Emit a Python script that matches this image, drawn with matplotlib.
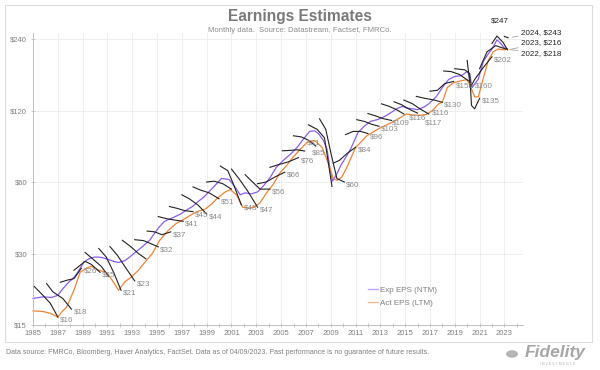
import matplotlib
matplotlib.use("Agg")
import matplotlib.pyplot as plt
from matplotlib.patches import Rectangle, Circle

plt.rcParams['font.family'] = ['Liberation Sans', 'DejaVu Sans']

# ---------------- data ----------------
exp_years = [1985.0, 1985.8, 1986.5, 1987.0, 1987.4, 1987.8, 1988.3, 1988.6, 1989.1, 1989.5,
             1990.0, 1990.5, 1991.0, 1991.5, 1991.9, 1992.4, 1992.8, 1993.3, 1993.8, 1994.4,
             1995.1, 1995.6, 1996.3, 1996.9, 1997.4, 1997.9, 1998.3, 1998.8, 1999.3, 1999.8,
             2000.2, 2000.8, 2001.2, 2001.7, 2002.1, 2002.6, 2003.1, 2003.6, 2004.1, 2004.6,
             2005.2, 2005.8, 2006.3, 2006.8, 2007.3, 2007.7, 2008.0, 2008.4, 2008.7, 2008.95,
             2009.15, 2009.5, 2009.8, 2010.2, 2010.6, 2011.2, 2011.7, 2012.2, 2012.8, 2013.3,
             2013.8, 2014.3, 2014.8, 2015.1, 2015.6, 2016.0, 2016.5, 2016.9, 2017.5, 2018.0,
             2018.5, 2019.0, 2019.5, 2020.0, 2020.2, 2020.4, 2020.6, 2020.9, 2021.3, 2021.7,
             2022.0, 2022.4, 2022.7, 2023.0, 2023.25]
exp_eps = [19.4, 19.7, 19.6, 20.0, 21.3, 22.5, 23.8, 25.0, 27.6, 28.5,
           29.0, 28.9, 28.4, 27.8, 27.5, 28.0, 29.0, 30.5, 32.0, 34.1,
           38.4, 41.0, 42.5, 44.0, 45.8, 47.5, 49.6, 52.0, 55.4, 59.0,
           62.1, 61.5, 58.0, 53.0, 54.0, 53.5, 54.5, 58.0, 62.5, 69.0,
           74.2, 79.0, 84.0, 91.0, 98.0, 98.5, 96.0, 90.0, 82.5, 68.0,
           60.5, 65.0, 70.2, 76.0, 82.5, 97.0, 103.0, 108.0, 110.0, 113.0,
           117.0, 122.0, 125.0, 123.0, 122.0, 121.0, 124.0, 128.0, 137.0, 150.0,
           162.0, 167.0, 168.0, 175.0, 170.0, 150.0, 155.0, 163.0, 193.0, 208.0,
           218.0, 238.0, 230.0, 220.0, 218.0]

act_years = [1985.0, 1985.8, 1986.4, 1987.0, 1987.3, 1987.7, 1988.3, 1988.8, 1989.3, 1989.7,
             1990.3, 1990.9, 1991.3, 1991.9, 1992.4, 1992.9, 1993.5, 1994.0, 1994.6, 1995.2,
             1995.9, 1996.5, 1997.1, 1997.7, 1998.2, 1998.9, 1999.4, 1999.9, 2000.5, 2000.9,
             2001.4, 2001.9, 2002.4, 2002.9, 2003.3, 2003.8, 2004.4, 2004.9, 2005.5, 2006.0,
             2006.6, 2007.1, 2007.7, 2008.3, 2008.8, 2009.2, 2009.5, 2009.9, 2010.3, 2011.0,
             2011.5, 2011.9, 2012.5, 2013.0, 2013.6, 2014.1, 2014.6, 2015.1, 2015.6, 2016.2,
             2016.7, 2017.2, 2017.7, 2018.0, 2018.4, 2018.9, 2019.5, 2020.0, 2020.3, 2020.6,
             2020.9, 2021.3, 2021.7, 2022.1, 2022.5, 2023.0, 2023.25]
act_eps = [17.2, 17.1, 16.8, 16.2, 17.0, 17.8, 21.0, 25.0, 26.0, 26.5,
           25.5, 25.0, 23.5, 21.0, 22.8, 23.8, 25.5, 27.5, 29.9, 34.0,
           37.5, 40.0, 41.6, 43.5, 45.0, 46.2, 48.5, 51.5, 54.5, 55.8,
           53.0, 47.0, 46.5, 47.3, 49.0, 53.8, 59.0, 65.5, 71.0, 76.7,
           83.0, 88.2, 89.7, 84.0, 72.0, 62.1, 61.0, 63.0, 69.2, 83.8,
           89.0, 93.9, 98.0, 101.4, 105.0, 108.0, 112.0, 116.0, 115.0, 114.5,
           115.5, 120.0, 128.0, 130.0, 150.0, 157.0, 160.0, 162.0, 150.0, 137.0,
           137.0, 164.0, 195.0, 212.0, 218.0, 216.0, 218.0]

# calendar-year estimate paths (time, estimate) and the final value label
fc_years = list(range(1986, 2025))
fc_t = [
    [1985.1, 1985.8, 1986.4, 1987.0],
    [1986.1, 1986.6, 1987.4, 1988.1],
    [1987.2, 1987.8, 1988.3, 1988.9],
    [1988.3, 1989.2, 1989.7, 1990.4],
    [1989.2, 1989.8, 1990.5, 1991.1],
    [1990.3, 1990.9, 1991.5, 1992.1],
    [1991.2, 1991.8, 1992.5, 1993.2],
    [1992.2, 1992.9, 1993.5, 1994.1],
    [1993.2, 1993.9, 1994.5, 1995.1],
    [1994.2, 1994.8, 1995.4, 1996.1],
    [1995.1, 1995.8, 1996.4, 1997.1],
    [1996.0, 1996.6, 1997.2, 1997.9],
    [1997.0, 1997.6, 1998.3, 1999.0],
    [1997.9, 1998.5, 1999.2, 2000.0],
    [1999.0, 1999.6, 2000.3, 2001.0],
    [2000.1, 2000.7, 2001.2, 2001.8],
    [2001.0, 2001.6, 2002.3, 2003.1],
    [2002.1, 2002.7, 2003.3, 2004.1],
    [2003.1, 2003.8, 2004.5, 2005.3],
    [2004.1, 2004.8, 2005.6, 2006.4],
    [2005.1, 2005.7, 2006.3, 2006.9],
    [2006.0, 2006.6, 2007.2, 2007.8],
    [2007.2, 2007.9, 2008.5, 2009.1],
    [2008.1, 2008.6, 2009.0, 2009.5, 2010.1],
    [2009.2, 2009.7, 2010.3, 2011.0],
    [2010.2, 2010.8, 2011.4, 2012.0],
    [2011.1, 2011.7, 2012.3, 2012.9],
    [2012.0, 2012.6, 2013.2, 2013.9],
    [2013.1, 2013.7, 2014.3, 2014.9],
    [2014.1, 2014.7, 2015.4, 2016.0],
    [2014.9, 2015.6, 2016.3, 2016.9],
    [2015.9, 2016.6, 2017.3, 2018.0],
    [2017.0, 2017.6, 2018.2, 2018.9],
    [2018.1, 2018.7, 2019.4, 2020.1],
    [2019.0, 2019.8, 2020.2, 2020.35, 2020.6, 2021.0],
    [2020.0, 2020.25, 2020.6, 2021.3, 2022.0],
    [2021.0, 2021.6, 2022.3, 2023.1],
    [2022.0, 2022.4, 2022.9, 2023.25],
    [2023.0, 2023.3],
]
fc_v = [
    [21.8, 20.0, 18.5, 16.2],
    [22.4, 20.7, 19.4, 17.5],
    [22.7, 23.2, 23.5, 26.0],
    [25.5, 27.8, 27.0, 25.0],
    [30.3, 28.5, 26.5, 24.0],
    [31.5, 29.0, 25.0, 21.0],
    [32.1, 29.5, 26.0, 23.0],
    [34.1, 32.0, 30.0, 28.5],
    [34.3, 34.0, 33.0, 32.0],
    [37.3, 37.0, 36.0, 37.0],
    [42.9, 42.0, 41.5, 41.0],
    [47.3, 46.5, 45.5, 45.0],
    [53.0, 51.0, 48.0, 44.0],
    [57.2, 55.5, 54.0, 51.0],
    [60.0, 60.5, 59.0, 56.0],
    [70.0, 67.0, 58.0, 48.0],
    [68.0, 62.0, 55.0, 47.0],
    [64.4, 60.0, 56.0, 56.0],
    [59.0, 60.0, 63.0, 66.0],
    [69.2, 71.0, 73.0, 76.0],
    [81.2, 81.5, 82.0, 81.0],
    [93.9, 93.0, 90.0, 85.0],
    [104.5, 100.0, 92.0, 57.5],
    [110.7, 100.0, 80.0, 62.0, 60.0],
    [72.0, 74.0, 79.0, 84.0],
    [95.0, 98.0, 98.0, 96.0],
    [109.8, 108.0, 105.0, 103.0],
    [116.5, 114.0, 111.0, 109.0],
    [128.0, 125.0, 121.0, 116.0],
    [130.6, 127.0, 121.0, 117.0],
    [132.8, 128.0, 121.0, 116.0],
    [137.6, 135.0, 133.0, 130.0],
    [144.7, 146.0, 156.0, 159.0],
    [176.0, 175.0, 170.0, 160.0],
    [180.0, 178.0, 172.0, 126.0, 122.0, 135.0],
    [195.0, 150.0, 162.0, 182.0, 202.0],
    [180.0, 212.0, 225.0, 218.0],
    [230.0, 247.0, 232.0, 216.0],
    [246.0, 243.0],
]
fc_labels = ['$16', '$18', '$26', '$25', '', '$21', '$23', '', '$32', '$37',
             '$41', '$45', '$44', '$51', '', '$48', '$47', '$56', '$66', '$76',
             '$81', '$85', '', '$60', '$84', '$96', '$103', '$109', '$116', '$117',
             '$116', '$130', '$159', '$160', '$135', '$202', '', '', '']

# recent estimates called out at the right
call_years = [2024, 2023, 2022]
call_texts = ['2024, $243', '2023, $216', '2022, $218']
peak_text = '$247'

x_ticks = list(range(1985, 2025))
x_labels = [str(y) if (y - 1985) % 2 == 0 else '' for y in x_ticks]
y_ticks = [15, 30, 60, 120, 240]
y_labels = ['$15', '$30', '$60', '$120', '$240']

# ---------------- figure ----------------
W, H = 600, 370
fig = plt.figure(figsize=(6, 3.7), dpi=100)
fig.patch.set_facecolor('white')
fig.patches.append(Rectangle((5 / W, 1 - 342 / H), 587 / W, 337 / H, transform=fig.transFigure,
                             fill=False, edgecolor='#dcdcdc', lw=0.8))

ax = fig.add_axes([33 / W, 45 / H, 490 / W, 292 / H])
ax.set_yscale('log', base=2)
ax.set_ylim(15, 254.4)
ax.set_xlim(1985, 2024.5)

grey = '#808080'
for s in ['top', 'right']:
    ax.spines[s].set_visible(False)
for s in ['left', 'bottom']:
    ax.spines[s].set_color('#bfbfbf')
    ax.spines[s].set_linewidth(0.7)

ax.set_yticks(y_ticks)
ax.set_yticklabels(y_labels)
ax.yaxis.set_minor_locator(matplotlib.ticker.NullLocator())
ax.set_xticks(x_ticks)
ax.set_xticklabels(x_labels)
ax.tick_params(axis='both', colors='#bfbfbf', labelcolor=grey, labelsize=5.5,
               length=2.5, width=0.6, direction='inout', pad=2)
ax.tick_params(axis='y', pad=3)

ax.set_axisbelow(True)
ax.grid(axis='y', color='#ececec', lw=0.6)
for y in range(1987, 2025, 2):
    ax.axvline(y, color='#ececec', lw=0.6, zorder=0)

purple = '#8a5cf0'
orange = '#ee8435'
ax.plot(exp_years, exp_eps, color=purple, lw=0.9, label='Exp EPS (NTM)', zorder=2, clip_on=False)
ax.plot(act_years, act_eps, color=orange, lw=0.9, label='Act EPS (LTM)', zorder=2, clip_on=False)

# pixel nudges for crowded value labels (index into fc_labels -> (dx, dy))
nudge = {20: (2, 8), 21: (-4, -7), 27: (0, -3), 28: (5, -4), 29: (7, -10),
         30: (3, 1), 32: (2, -5), 33: (6, -5)}
for k, (t, v, lab) in enumerate(zip(fc_t, fc_v, fc_labels)):
    ax.plot(t, v, color='#222222', lw=0.8, zorder=3, clip_on=False)
    if lab:
        dx, dy = nudge.get(k, (2, -3))
        ax.annotate(lab, (t[-1], v[-1]), xytext=(dx, dy), textcoords='offset pixels',
                    ha='left', va='center', fontsize=5.8, color='#8c8c8c', zorder=4)

# peak label
pk = fc_years.index(2023)
pk_i = fc_v[pk].index(max(fc_v[pk]))
ax.annotate(peak_text, (fc_t[pk][pk_i], fc_v[pk][pk_i]), xytext=(500, H - 21),
            textcoords='figure pixels', ha='center', va='center', fontsize=5.8,
            color='#222222')

# call-outs
call_pos = [(519, 33), (519, 43), (519, 54)]
for cy, txt, (px, py) in zip(call_years, call_texts, call_pos):
    i = fc_years.index(cy)
    ax.annotate(txt, (fc_t[i][-1], fc_v[i][-1]), xytext=(px + 2, H - py),
                textcoords='figure pixels', ha='left', va='center', fontsize=5.8,
                color='#222222',
                arrowprops=dict(arrowstyle='-', color='#a6a6a6', lw=0.6,
                                shrinkA=0, shrinkB=3))

leg = ax.legend(loc='upper left', bbox_to_anchor=(368 / W, 1 - 286 / H),
                bbox_transform=fig.transFigure, frameon=False, fontsize=5.8,
                handlelength=1.3, handletextpad=0.2, labelspacing=0.65,
                borderpad=0, borderaxespad=0)
for txt in leg.get_texts():
    txt.set_color('#7f7f7f')
for ln in leg.get_lines():
    ln.set_alpha(0.55)
    ln.set_linewidth(1.0)

fig.text(300 / W, 1 - 16 / H, 'Earnings Estimates', ha='center', va='center',
         fontsize=11.2, fontweight='bold', color='#7a7a7a')
fig.text(300 / W, 1 - 30 / H, 'Monthly data.  Source: Datastream, Factset, FMRCo.',
         ha='center', va='center', fontsize=5.6, color='#8c8c8c')
fig.text(6 / W, 1 - 353 / H,
         'Data source: FMRCo, Bloomberg, Haver Analytics, FactSet. Data as of 04/09/2023. '
         'Past performance is no guarantee of future results.',
         ha='left', va='center', fontsize=5.0, color='#7f7f7f')

# logo
fig.patches.append(Circle((512 / W, 1 - 354 / H), 6 / W, transform=fig.transFigure,
                          facecolor='#b5b5b5', edgecolor='none'))
fig.text(555 / W, 1 - 353 / H, 'Fidelity', ha='center', va='center', fontsize=12.5,
         fontweight='bold', fontstyle='italic', color='#a6a6a6')
fig.text(557 / W, 1 - 364 / H, 'I N V E S T M E N T S', ha='center', va='center',
         fontsize=2.5, color='#b0b0b0')

fig.savefig('out.png', dpi=100)
